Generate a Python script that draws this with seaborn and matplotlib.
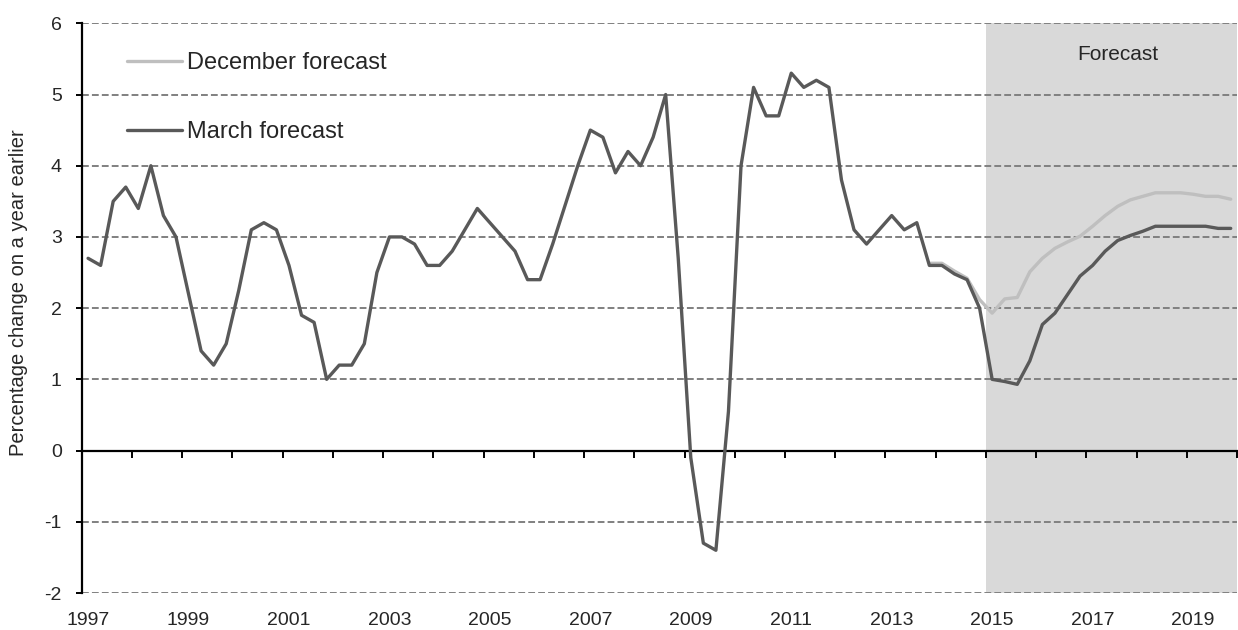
import numpy as np
import pandas as pd
import matplotlib
matplotlib.use("Agg")
import matplotlib.pyplot as plt
import seaborn as sns

# Quarterly categories
quarters = pd.period_range("1997Q1", "2019Q4", freq="Q")

# Year-on-year growth, March forecast (outturn to 2014Q3, forecast thereafter)
march = [
    2.7, 2.6, 3.5, 3.7,      # 1997
    3.4, 4.0, 3.3, 3.0,      # 1998
    2.2, 1.4, 1.2, 1.5,      # 1999
    2.25, 3.1, 3.2, 3.1,     # 2000
    2.6, 1.9, 1.8, 1.0,      # 2001
    1.2, 1.2, 1.5, 2.5,      # 2002
    3.0, 3.0, 2.9, 2.6,      # 2003
    2.6, 2.8, 3.1, 3.4,      # 2004
    3.2, 3.0, 2.8, 2.4,      # 2005
    2.4, 2.9, 3.45, 4.0,     # 2006
    4.5, 4.4, 3.9, 4.2,      # 2007
    4.0, 4.4, 5.0, 2.7,      # 2008
    -0.1, -1.3, -1.4, 0.55,  # 2009
    4.0, 5.1, 4.7, 4.7,      # 2010
    5.3, 5.1, 5.2, 5.1,      # 2011
    3.8, 3.1, 2.9, 3.1,      # 2012
    3.3, 3.1, 3.2, 2.6,      # 2013
    2.6, 2.48, 2.4, 2.0,     # 2014
    1.0, 0.97, 0.93, 1.26,   # 2015
    1.77, 1.93, 2.19, 2.45,  # 2016
    2.6, 2.8, 2.95, 3.02,    # 2017
    3.08, 3.15, 3.15, 3.15,  # 2018
    3.15, 3.15, 3.12, 3.12,  # 2019
]

# December forecast, from 2013Q4
december_start = "2013Q4"
december = [
    2.63,                    # 2013
    2.63, 2.52, 2.42, 2.12,  # 2014
    1.93, 2.13, 2.15, 2.51,  # 2015
    2.70, 2.84, 2.93, 3.01,  # 2016
    3.15, 3.30, 3.43, 3.52,  # 2017
    3.57, 3.62, 3.62, 3.62,  # 2018
    3.60, 3.57, 3.57, 3.53,  # 2019
]

series_names = ["December forecast", "March forecast"]
series_colors = ["#bfbfbf", "#595959"]

year_labels = [str(y) for y in range(1997, 2020, 2)]
y_ticks = list(range(-2, 7))
forecast_from = 2015
shade_label = "Forecast"
y_title = "Percentage change on a year earlier"


def quarter_pos(periods):
    # centre of each quarter on a continuous year scale
    return np.array([p.year + (p.quarter - 1) / 4 + 0.125 for p in periods])


dec_quarters = pd.period_range(december_start, "2019Q4", freq="Q")
df = pd.concat([
    pd.DataFrame({"x": quarter_pos(dec_quarters), "value": december,
                  "series": series_names[0]}),
    pd.DataFrame({"x": quarter_pos(quarters), "value": march,
                  "series": series_names[1]}),
], ignore_index=True)

sns.set_style("white")
plt.rcParams["font.family"] = ["Liberation Sans", "DejaVu Sans"]

fig = plt.figure(figsize=(12.38, 6.30), dpi=100)
ax = fig.add_axes([81.8 / 1238, 1 - 593 / 630, (1237 - 81.8) / 1238, (593 - 23.3) / 630])

# forecast shading
ax.axvspan(forecast_from, 2020, color="#d9d9d9", lw=0, zorder=0.1)

sns.lineplot(data=df, x="x", y="value", hue="series", hue_order=series_names,
             palette=series_colors, linewidth=2.4, ax=ax, zorder=3,
             legend=True)

ax.set_xlim(1997, 2020)
ax.set_ylim(-2, 6)

# horizontal gridlines
ax.set_axisbelow(True)
ax.yaxis.grid(True, color="#808080", linestyle=(0, (3.5, 1.6)), linewidth=1.4, zorder=0.5)
ax.xaxis.grid(False)

# y axis
ax.set_yticks(y_ticks)
ax.set_yticklabels([str(t) for t in y_ticks])
ax.tick_params(axis="y", direction="out", length=4.5, width=1.4, color="black",
               labelsize=14, pad=10, left=True)
ax.spines["left"].set_color("black")
ax.spines["left"].set_linewidth(1.6)
for s in ("top", "right"):
    ax.spines[s].set_visible(False)

# x axis line at zero with yearly tick marks
ax.spines["bottom"].set_position(("data", 0))
ax.spines["bottom"].set_color("black")
ax.spines["bottom"].set_linewidth(1.6)
ax.set_xticks(list(range(1998, 2021)))
ax.tick_params(axis="x", direction="out", length=5, width=1.4, color="black",
               labelbottom=False, bottom=True)
ax.set_xlabel("")

# year labels along the bottom edge
sec = ax.secondary_xaxis("bottom")
sec.set_xticks([int(y) + 0.125 for y in year_labels])
sec.set_xticklabels(year_labels)
sec.tick_params(length=0, labelsize=14, pad=14)
sec.spines["bottom"].set_visible(False)

ax.set_ylabel(y_title, fontsize=14.5)
ax.yaxis.set_label_coords(-0.0466, 0.528)

ax.text(2017.63, 5.56, shade_label, ha="center", va="center", fontsize=15)

leg = ax.legend(loc="upper left", bbox_to_anchor=(0.039, 0.950), frameon=False,
                fontsize=17, handlelength=2.33, handletextpad=0.2,
                labelspacing=2.0, borderpad=0, borderaxespad=0)
for line in leg.get_lines():
    line.set_linewidth(2.4)

fig.savefig("out.png", dpi=100)
